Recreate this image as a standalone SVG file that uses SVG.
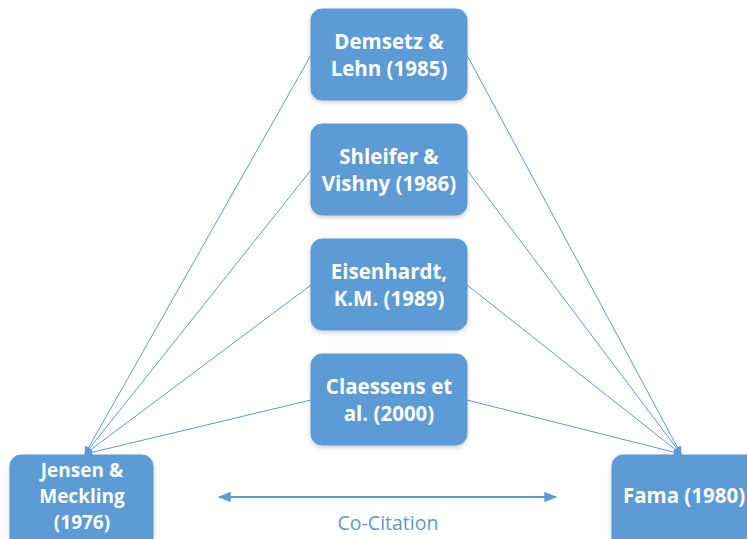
<svg xmlns="http://www.w3.org/2000/svg" width="747" height="539" viewBox="0 0 747 539">
<defs>
<style>
.box{fill:#5b9bd5;stroke:#5b9bd5;stroke-width:1;filter:url(#sh)}
.lbl{fill:#ffffff;font-family:"Open Sans","Liberation Sans",sans-serif;font-weight:bold;font-size:20.5px;text-anchor:middle}
.sm{font-size:19px}
.ln{stroke:#5b9bd5;stroke-width:1;fill:none;marker-end:url(#ah)}
</style>
<marker id="ah" viewBox="0 0 10 10" refX="9" refY="5" markerWidth="8" markerHeight="8" markerUnits="userSpaceOnUse" orient="auto">
<path d="M0,0 L10,5 L0,10 z" fill="#5b9bd5"/>
</marker>
<marker id="ah2" viewBox="0 0 10 10" refX="9" refY="5" markerWidth="13" markerHeight="13" markerUnits="userSpaceOnUse" orient="auto-start-reverse">
<path d="M0,1 L10,5 L0,9 z" fill="#5b9bd5"/>
</marker>
<filter id="sh" x="-10%" y="-10%" width="120%" height="130%">
<feDropShadow dx="0" dy="2" stdDeviation="2" flood-color="#000" flood-opacity="0.2"/>
</filter>
</defs>
<g id="connectors">
<line class="ln" x1="311" y1="55" x2="85" y2="454"/>
<line class="ln" x1="311" y1="170" x2="85" y2="454"/>
<line class="ln" x1="311" y1="285" x2="85" y2="454"/>
<line class="ln" x1="311" y1="400" x2="85" y2="454"/>
<line class="ln" x1="467" y1="55" x2="681" y2="454"/>
<line class="ln" x1="467" y1="170" x2="681" y2="454"/>
<line class="ln" x1="467" y1="285" x2="681" y2="454"/>
<line class="ln" x1="467" y1="400" x2="681" y2="454"/>
<line x1="219" y1="497" x2="556" y2="497" stroke="#5b9bd5" stroke-width="2" marker-start="url(#ah2)" marker-end="url(#ah2)"/>
<text x="388" y="530" fill="#5b9bd5" font-family="Open Sans, Liberation Sans, sans-serif" font-size="19.5" text-anchor="middle">Co-Citation</text>
</g>
<g id="demsetz">
<rect class="box" x="311" y="9" width="156" height="91" rx="11"/>
<text class="lbl" x="389" y="49">Demsetz &amp;</text>
<text class="lbl" x="389" y="76">Lehn (1985)</text>
</g>
<g id="shleifer">
<rect class="box" x="311" y="124" width="156" height="91" rx="11"/>
<text class="lbl" x="389" y="164">Shleifer &amp;</text>
<text class="lbl" x="389" y="191">Vishny (1986)</text>
</g>
<g id="eisenhardt">
<rect class="box" x="311" y="239" width="156" height="91" rx="11"/>
<text class="lbl" x="389" y="279">Eisenhardt,</text>
<text class="lbl" x="389" y="306">K.M. (1989)</text>
</g>
<g id="claessens">
<rect class="box" x="311" y="354" width="156" height="91" rx="11"/>
<text class="lbl" x="389" y="394">Claessens et</text>
<text class="lbl" x="389" y="421">al. (2000)</text>
</g>
<g id="jensen">
<rect class="box" x="10" y="455" width="143" height="95" rx="11"/>
<text class="lbl sm" x="82" y="477">Jensen &amp;</text>
<text class="lbl sm" x="82" y="503">Meckling</text>
<text class="lbl sm" x="82" y="529">(1976)</text>
</g>
<g id="fama">
<rect class="box" x="612" y="455" width="150" height="95" rx="11"/>
<text class="lbl" x="684" y="503">Fama (1980)</text>
</g>
</svg>
